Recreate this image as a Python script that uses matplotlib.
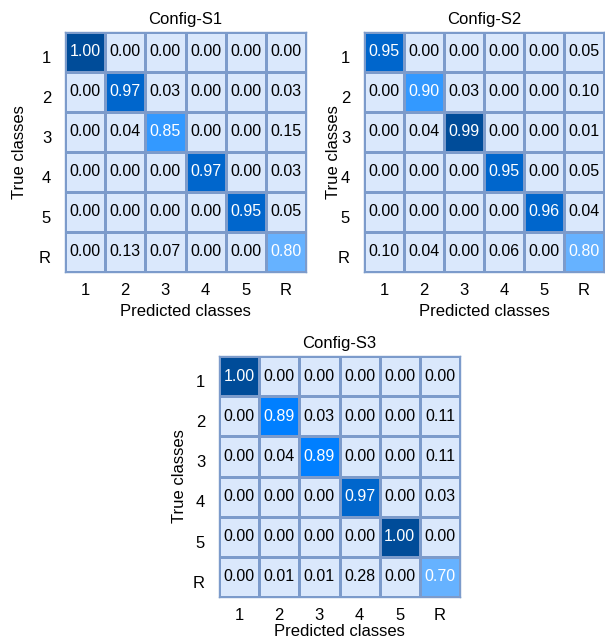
import numpy as np
import matplotlib
matplotlib.use("Agg")
import matplotlib.pyplot as plt
from matplotlib.colors import ListedColormap, BoundaryNorm

plt.rcParams['font.family'] = ['Liberation Sans', 'DejaVu Sans']

classes = ["1", "2", "3", "4", "5", "R"]
titles = ["Config-S1", "Config-S2", "Config-S3"]

s1 = [[1.00, 0.00, 0.00, 0.00, 0.00, 0.00],
      [0.00, 0.97, 0.03, 0.00, 0.00, 0.03],
      [0.00, 0.04, 0.85, 0.00, 0.00, 0.15],
      [0.00, 0.00, 0.00, 0.97, 0.00, 0.03],
      [0.00, 0.00, 0.00, 0.00, 0.95, 0.05],
      [0.00, 0.13, 0.07, 0.00, 0.00, 0.80]]
s2 = [[0.95, 0.00, 0.00, 0.00, 0.00, 0.05],
      [0.00, 0.90, 0.03, 0.00, 0.00, 0.10],
      [0.00, 0.04, 0.99, 0.00, 0.00, 0.01],
      [0.00, 0.00, 0.00, 0.95, 0.00, 0.05],
      [0.00, 0.00, 0.00, 0.00, 0.96, 0.04],
      [0.10, 0.04, 0.00, 0.06, 0.00, 0.80]]
s3 = [[1.00, 0.00, 0.00, 0.00, 0.00, 0.00],
      [0.00, 0.89, 0.03, 0.00, 0.00, 0.11],
      [0.00, 0.04, 0.89, 0.00, 0.00, 0.11],
      [0.00, 0.00, 0.00, 0.97, 0.00, 0.03],
      [0.00, 0.00, 0.00, 0.00, 1.00, 0.00],
      [0.00, 0.01, 0.01, 0.28, 0.00, 0.70]]
matrices = [s1, s2, s3]

cmap = ListedColormap(["#DAE8FC", "#66B2FF", "#3399FF", "#007FFF",
                       "#3399FF", "#0066CC", "#004C99"])
norm = BoundaryNorm([0, 0.5, 0.84, 0.885, 0.895, 0.94, 0.985, 1.01], cmap.N)

W, H = 605, 640
fig = plt.figure(figsize=(W / 100, H / 100), dpi=100)

FS = 12
CFS = 11.5
# pixel boxes: left, top, right, bottom
boxes = [(65, 32, 306, 272), (364, 32, 604, 272), (219, 356, 460, 597)]
ylabel_x = [20, 333, 180]      # pixel centre of the y-axis label
xlabel_y = [311, 311, 631]     # pixel centre of the x-axis label

for m, title, (l, t, r, b), ylx, xly in zip(matrices, titles, boxes, ylabel_x, xlabel_y):
    ax = fig.add_axes([l / W, 1 - b / H, (r - l) / W, (b - t) / H])
    data = np.array(m)
    n = len(classes)
    ax.pcolormesh(np.arange(n + 1), np.arange(n + 1), data, cmap=cmap, norm=norm,
                  edgecolors="#7C9BCB", linewidth=1.0)
    ax.set_xlim(0, n)
    ax.set_ylim(n, 0)
    for i in range(n):
        for j in range(n):
            ax.text(j + 0.5, i + 0.5, f"{data[i, j]:.2f}", ha="center", va="center",
                    fontsize=CFS, color="white" if i == j else "black")
    ax.set_xticks(np.arange(n) + 0.5)
    ax.set_xticklabels(classes, fontsize=FS)
    ax.set_yticks(np.arange(n) + 0.62)
    ax.set_yticklabels(classes, fontsize=FS)
    ax.tick_params(axis="x", length=0, pad=8)
    ax.tick_params(axis="y", length=0, pad=10)
    for sp in ax.spines.values():
        sp.set_color("#7C9BCB")
        sp.set_linewidth(1.0)
    ax.set_title(title, fontsize=FS, pad=6)
    ax.set_xlabel("Predicted classes", fontsize=FS, va="center")
    ax.set_ylabel("True classes", fontsize=FS, va="center")
    ax.xaxis.set_label_coords(0.5, (b - xly) / (b - t))
    ax.yaxis.set_label_coords((ylx - l) / (r - l), 0.5)

fig.savefig("out.png", dpi=100)
